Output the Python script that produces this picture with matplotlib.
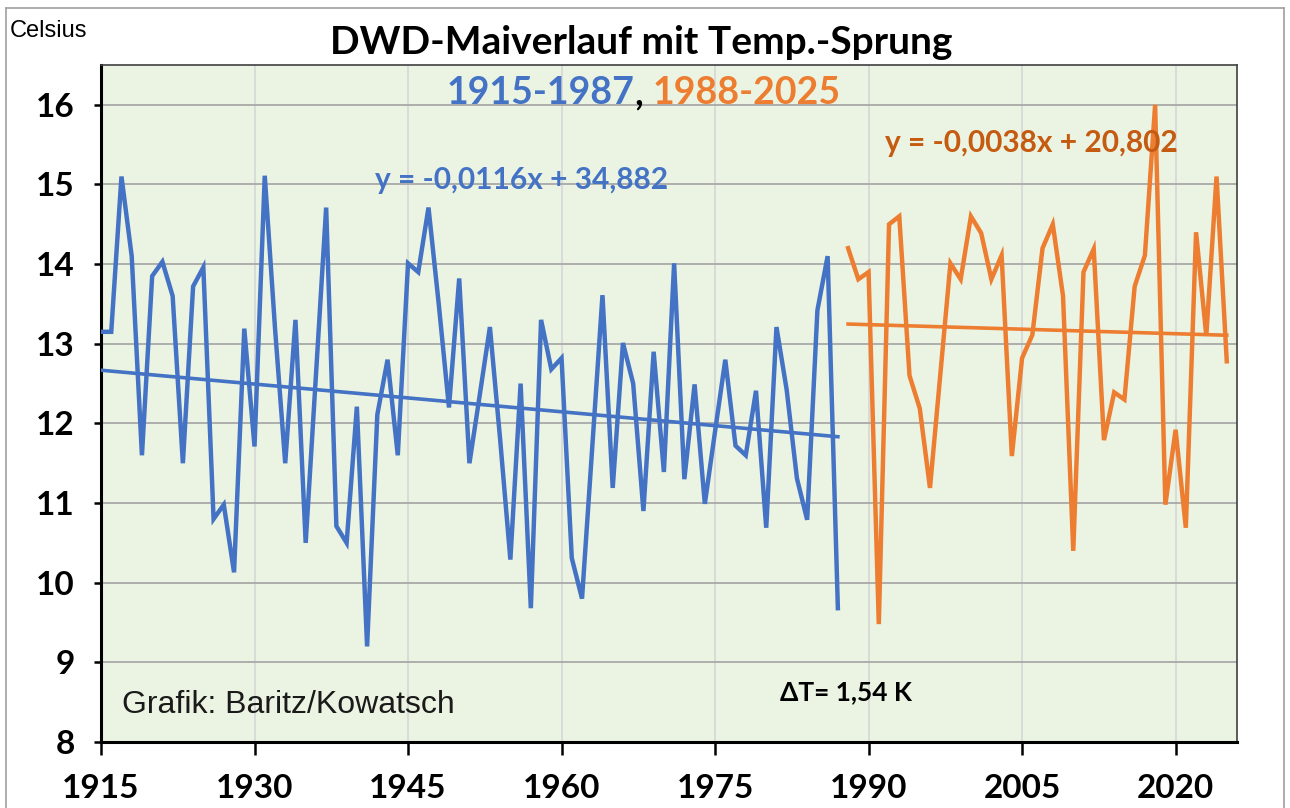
import matplotlib
matplotlib.use("Agg")
import matplotlib.pyplot as plt
import numpy as np
from matplotlib.lines import Line2D

# May mean temperatures (DWD)
years_a = list(range(1915, 1988))
temps_a = [13.15, 13.15, 15.1, 14.1, 11.6, 13.85, 14.03, 13.6, 11.5, 13.72,
           13.96, 10.8, 10.98, 10.13, 13.19, 11.71, 15.11, 13.2, 11.5, 13.3,
           10.5, 12.6, 14.71, 10.71, 10.5, 12.21, 9.2, 12.11, 12.8, 11.6,
           14.01, 13.9, 14.71, 13.5, 12.2, 13.82, 11.5, 12.35, 13.21, 11.8,
           10.29, 12.5, 9.68, 13.3, 12.68, 12.82, 10.31, 9.8, 11.7, 13.61,
           11.19, 13.01, 12.5, 10.9, 12.9, 11.39, 14.01, 11.3, 12.49, 10.99,
           11.9, 12.8, 11.72, 11.6, 12.41, 10.69, 13.21, 12.42, 11.31, 10.79,
           13.42, 14.1, 9.68]

years_b = list(range(1988, 2026))
temps_b = [14.2, 13.81, 13.9, 9.48, 14.5, 14.6, 12.6, 12.19, 11.19, 12.6,
           14.01, 13.81, 14.6, 14.39, 13.81, 14.11, 11.59, 12.82, 13.11, 14.2,
           14.5, 13.6, 10.4, 13.9, 14.19, 11.79, 12.39, 12.3, 13.72, 14.11,
           16.0, 10.98, 11.92, 10.69, 14.4, 13.1, 15.1, 12.78]

# trend lines as given in the chart labels
slope_a, icpt_a = -0.0116, 34.882
slope_b, icpt_b = -0.0038, 20.802

xticks = [1915, 1930, 1945, 1960, 1975, 1990, 2005, 2020]
yticks = [8, 9, 10, 11, 12, 13, 14, 15, 16]

BLUE = "#4472C4"
ORANGE = "#ED7D31"
DARKORANGE = "#C55A11"
FONT = "Lato"

fig = plt.figure(figsize=(12.9, 8.08), dpi=100)
ax = fig.add_axes([101 / 1290, 1 - 742 / 808, (1237 - 101) / 1290, (742 - 65) / 808])
ax.set_facecolor("#EBF4E2")

ya = np.array(years_a)
yb = np.array(years_b)
ax.plot(ya, temps_a, color=BLUE, lw=3.2, zorder=3, solid_joinstyle="miter")
ax.plot(yb, temps_b, color=ORANGE, lw=3.2, zorder=3, solid_joinstyle="miter")
ax.plot([ya[0], ya[-1]], [icpt_a + slope_a * ya[0], icpt_a + slope_a * ya[-1]],
        color=BLUE, lw=2.6, zorder=3)
ax.plot([yb[0], yb[-1]], [icpt_b + slope_b * yb[0], icpt_b + slope_b * yb[-1]],
        color=ORANGE, lw=2.6, zorder=3)

ax.set_xlim(1915, 2026)
ax.set_ylim(8, 16.5)
ax.set_xticks(xticks)
ax.set_yticks(yticks)
ax.set_xticklabels([str(t) for t in xticks], fontsize=24, fontweight="bold", family=FONT)
ax.set_yticklabels([str(t) for t in yticks], fontsize=24, fontweight="bold", family=FONT)
ax.tick_params(axis="x", direction="out", length=9, width=1.8, pad=14)
ax.tick_params(axis="y", direction="out", length=5, width=1.8, pad=14)

# gridlines: vertical light, horizontal darker
for t in xticks[1:]:
    ax.axvline(t, color="#D6D6D6", lw=1.2, zorder=1)
for t in yticks[1:]:
    ax.axhline(t, color="#A9A9A9", lw=1.3, zorder=1)

for s in ["top", "right"]:
    ax.spines[s].set_color("#404040")
    ax.spines[s].set_linewidth(1.2)
for s in ["left", "bottom"]:
    ax.spines[s].set_color("black")
    ax.spines[s].set_linewidth(2.2)

# texts
fig.text(641 / 1290, 1 - 43 / 808, "DWD-Maiverlauf mit Temp.-Sprung", ha="center", va="center",
         fontsize=28, fontweight="bold", family=FONT)
fig.text(10 / 1290, 1 - 31 / 808, "Celsius", ha="left", va="center", fontsize=17,
         family="Liberation Sans")

t1 = fig.text(447 / 1290, 1 - 93 / 808, "1915-1987", ha="left", va="center",
              fontsize=27, fontweight="bold", family=FONT, color=BLUE)
fig.canvas.draw()
bb = t1.get_window_extent()
t2 = fig.text(bb.x1 / 1290, 1 - 93 / 808, ", ", ha="left", va="center",
              fontsize=27, fontweight="bold", family=FONT, color="black")
fig.canvas.draw()
bb2 = t2.get_window_extent()
fig.text(bb2.x1 / 1290, 1 - 93 / 808, "1988-2025", ha="left", va="center",
         fontsize=27, fontweight="bold", family=FONT, color=ORANGE)

fig.text(375 / 1290, 1 - 180 / 808, "y = -0,0116x + 34,882", ha="left", va="center",
         fontsize=21.5, fontweight="bold", family=FONT, color=BLUE)
fig.text(885 / 1290, 1 - 143 / 808, "y = -0,0038x + 20,802", ha="left", va="center",
         fontsize=21.5, fontweight="bold", family=FONT, color=DARKORANGE)
fig.text(122 / 1290, 1 - 705 / 808, "Grafik: Baritz/Kowatsch", ha="left", va="center",
         fontsize=23, family="Liberation Sans", color="#1a1a1a")
fig.text(780 / 1290, 1 - 692 / 808, "\u0394T= 1,54 K", ha="left", va="center",
         fontsize=19, fontweight="bold", family=[FONT, "DejaVu Sans"])

# thin frame around the whole picture
fig.add_artist(Line2D([6 / 1290, 6 / 1290], [0, 1 - 8 / 808], color="#A0A0A0", lw=1.2))
fig.add_artist(Line2D([6 / 1290, 1284 / 1290], [1 - 8 / 808, 1 - 8 / 808], color="#A0A0A0", lw=1.2))
fig.add_artist(Line2D([1284 / 1290, 1284 / 1290], [0, 1 - 8 / 808], color="#A0A0A0", lw=1.2))

plt.savefig("out.png", dpi=100)
